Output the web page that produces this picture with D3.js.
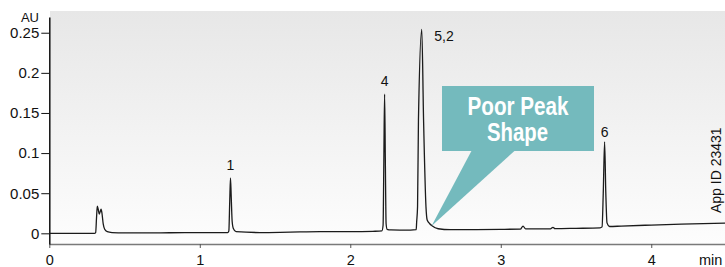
<!DOCTYPE html>
<html>
<head>
<meta charset="utf-8">
<script src="https://cdn.jsdelivr.net/npm/d3@7/dist/d3.min.js"></script>
<style>
body{margin:0;background:#fff;}
svg{display:block;font-family:"Liberation Sans",Arial,Helvetica,sans-serif;}
</style>
</head>
<body>
<svg id="chart" width="725" height="267"></svg>
<script>
// trace: retention time (min) / absorbance (AU)
var times = [0.00,0.10,0.20,0.30,0.308,0.314,0.319,0.325,0.332,0.338,0.344,0.350,0.358,0.368,0.385,0.417,
  0.50,0.70,0.90,1.10,1.185,1.193,1.199,1.204,1.209,1.215,1.223,1.241,
  1.40,1.60,1.80,2.00,2.15,2.210,2.218,2.223,2.228,2.233,2.238,2.245,2.27,2.33,2.40,
  2.438,2.441,2.447,2.453,2.475,2.487,2.503,2.511,2.528,2.543,2.584,2.664,
  2.80,3.00,3.13,3.148,3.165,3.25,3.33,3.347,3.36,3.50,3.66,
  3.673,3.681,3.690,3.698,3.706,3.723,3.80,4.00,4.20,4.49];
var absorb = [0.000,0.000,0.000,0.000,0.001,0.020,0.034,0.030,0.024,0.027,0.030,0.025,0.012,0.005,0.002,0.001,
  0.0005,0.0005,0.001,0.001,0.001,0.003,0.040,0.069,0.045,0.015,0.006,0.002,
  0.001,0.0015,0.002,0.002,0.0025,0.003,0.010,0.090,0.1736,0.090,0.012,0.005,0.0042,0.004,0.004,
  0.0045,0.014,0.033,0.141,0.254,0.141,0.033,0.0166,0.012,0.0095,0.0057,0.0045,
  0.0046,0.005,0.0052,0.009,0.0055,0.0055,0.0056,0.0075,0.0058,0.0062,0.0068,
  0.008,0.050,0.114,0.050,0.013,0.0085,0.009,0.0103,0.0115,0.0128];

var peakNames = ["1","4","5,2","6"];
var peakTimes = [1.204,2.228,2.475,3.690];
var peakHeights = [0.069,0.1736,0.254,0.114];

var yTicks = [0,0.05,0.1,0.15,0.2,0.25];
var yTickLabels = ["0","0.05","0.1","0.15","0.2","0.25"];
var xTicks = [0,1,2,3,4];

var svg = d3.select("#chart");

var x = d3.scaleLinear().domain([0,4.49]).range([49.3,725]);
var y = d3.scaleLinear().domain([-0.0133,0.2696]).range([244,17]);

// panel background
var grad = svg.append("defs").append("linearGradient")
    .attr("id","bg").attr("x1",0).attr("y1",0).attr("x2",0).attr("y2",1);
grad.append("stop").attr("offset","0%").attr("stop-color","#e7e7e7");
grad.append("stop").attr("offset","100%").attr("stop-color","#fdfdfd");
svg.append("rect").attr("x",50).attr("y",11).attr("width",675).attr("height",233)
    .attr("fill","url(#bg)");

// x axis
var gx = svg.append("g").attr("transform","translate(0,244)")
    .call(d3.axisBottom(x).tickValues(xTicks).tickFormat(d3.format("d"))
        .tickSize(4).tickSizeOuter(0).tickPadding(7));
gx.select(".domain").attr("stroke","#7a7a7a").attr("stroke-width",1.6);
gx.selectAll(".tick line").attr("stroke","#555");
gx.selectAll("text").attr("font-size",14.5).attr("fill","#111").attr("font-family",null);
svg.append("text").attr("x",699).attr("y",244+11).attr("dy","0.71em")
    .attr("font-size",14.5).attr("fill","#111").text("min");

// y axis
var gy = svg.append("g").attr("transform","translate(49.3,0)")
    .call(d3.axisLeft(y).tickValues(yTicks).tickFormat(function(d,i){return yTickLabels[i];})
        .tickSize(8).tickSizeOuter(0).tickPadding(2));
gy.select(".domain").attr("stroke","#111").attr("stroke-width",1.5);
gy.selectAll(".tick line").attr("stroke","#111");
gy.selectAll("text").attr("font-size",15).attr("fill","#111").attr("font-family",null);
svg.append("text").attr("x",39).attr("y",21.5).attr("text-anchor","end")
    .attr("font-size",13).attr("fill","#111").text("AU");

// trace
var pts = times.map(function(t,i){return [t,absorb[i]];});
svg.append("path").datum(pts)
    .attr("fill","none").attr("stroke","#1b1b1b").attr("stroke-width",1.3)
    .attr("stroke-linejoin","round")
    .attr("d",d3.line().x(function(d){return x(d[0]);}).y(function(d){return y(d[1]);})
        .curve(d3.curveMonotoneX));

// peak labels
var labOff = [[0,-7.5,"middle"],[0,-8,"middle"],[12.5,11.5,"start"],[0,-4.5,"middle"]];
svg.selectAll(".plab").data(peakNames).enter().append("text")
    .attr("class","plab")
    .attr("x",function(d,i){return x(peakTimes[i])+labOff[i][0];})
    .attr("y",function(d,i){return y(peakHeights[i])+labOff[i][1];})
    .attr("text-anchor",function(d,i){return labOff[i][2];})
    .attr("font-size",14).attr("fill","#111").text(function(d){return d;});

// callout
var tipX = x(2.54), tipY = y(0.009);
svg.append("rect").attr("x",442).attr("y",86).attr("width",152).attr("height",65).attr("fill","#74babd");
svg.append("path").attr("d","M471.7,150.5L515,150.5L"+tipX+","+tipY+"Z").attr("fill","#74babd");
var ct = svg.append("text").attr("text-anchor","middle").attr("fill","#fff")
    .attr("font-family","'Liberation Sans Narrow','Arial Narrow',sans-serif")
    .attr("font-weight","bold").attr("font-size",25);
ct.append("tspan").attr("x",518).attr("y",115)
    .attr("textLength",101).attr("lengthAdjust","spacingAndGlyphs").text("Poor Peak");
var ct2 = svg.append("text").attr("text-anchor","middle").attr("fill","#fff")
    .attr("font-family","'Liberation Sans Narrow','Arial Narrow',sans-serif")
    .attr("font-weight","bold").attr("font-size",25);
ct2.append("tspan").attr("x",517.5).attr("y",141)
    .attr("textLength",61).attr("lengthAdjust","spacingAndGlyphs").text("Shape");

// app id
svg.append("text").attr("transform","translate(720.5,213) rotate(-90)")
    .attr("font-size",14).attr("fill","#111").text("App ID 23431");
</script>
</body>
</html>
